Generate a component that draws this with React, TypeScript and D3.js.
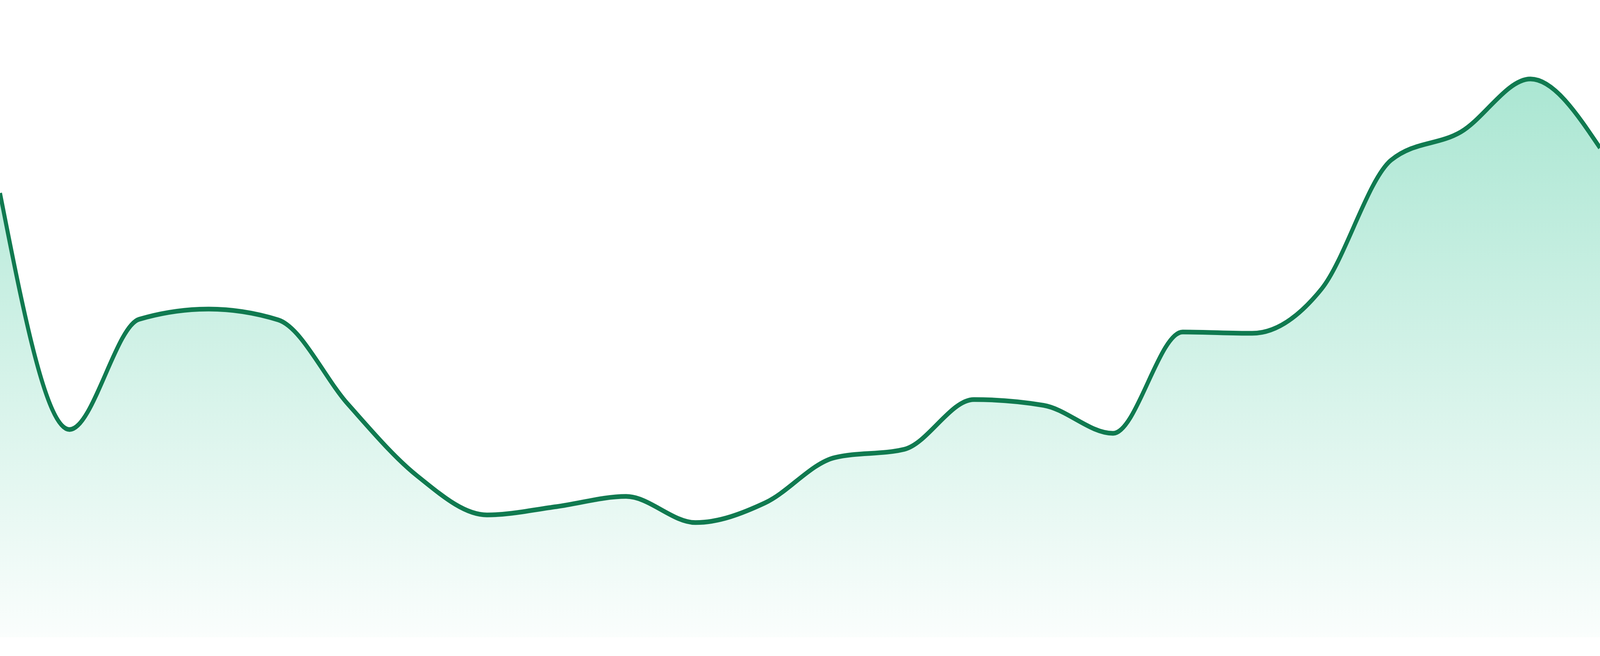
import React, { useEffect, useRef } from 'react';
import * as d3 from 'd3';

const WIDTH = 4800;
const HEIGHT = 1680;

// One value per step (0..100 scale)
const VALUES = [
  69.7, 32.6, 49.9, 51.5, 49.8, 36.6, 25.3, 19.2, 20.5, 22.1, 18.0, 21.1,
  28.2, 29.5, 37.3, 36.4, 32.0, 47.9, 47.7, 54.7, 74.9, 79.3, 87.6, 76.8,
];

const Y_DOMAIN = [0, 100];
const LINE_COLOR = '#107a50';
const FILL_COLOR = '#10b981';

const App: React.FC = () => {
  const svgRef = useRef<SVGSVGElement>(null);

  useEffect(() => {
    document.body.style.margin = '0';
    document.body.style.overflow = 'hidden';
    if (!svgRef.current) return;

    const svg = d3.select(svgRef.current);
    svg.selectAll('*').remove();

    const margin = { top: 0, right: 0, bottom: 48, left: 0 };
    const innerH = HEIGHT - margin.top - margin.bottom;

    const x = d3
      .scaleLinear()
      .domain([0, VALUES.length - 1])
      .range([margin.left, WIDTH - margin.right]);

    const y = d3
      .scaleLinear()
      .domain(Y_DOMAIN)
      .range([margin.top + innerH, margin.top]);

    // Vertical fade under the line
    const defs = svg.append('defs');
    const grad = defs
      .append('linearGradient')
      .attr('id', 'area-fade')
      .attr('gradientUnits', 'userSpaceOnUse')
      .attr('x1', 0)
      .attr('x2', 0)
      .attr('y1', margin.top)
      .attr('y2', margin.top + innerH);
    grad.append('stop').attr('offset', '0%').attr('stop-color', FILL_COLOR).attr('stop-opacity', 0.4);
    grad.append('stop').attr('offset', '100%').attr('stop-color', FILL_COLOR).attr('stop-opacity', 0.02);

    const area = d3
      .area<number>()
      .x((_, i) => x(i))
      .y0(y(Y_DOMAIN[0]))
      .y1((d) => y(d))
      .curve(d3.curveMonotoneX);

    const line = d3
      .line<number>()
      .x((_, i) => x(i))
      .y((d) => y(d))
      .curve(d3.curveMonotoneX);

    svg.append('path')
      .datum(VALUES)
      .attr('d', area)
      .attr('fill', 'url(#area-fade)');

    svg.append('path')
      .datum(VALUES)
      .attr('d', line)
      .attr('fill', 'none')
      .attr('stroke', LINE_COLOR)
      .attr('stroke-width', 12)
      .attr('stroke-linejoin', 'round');
  }, []);

  // Fit the drawing to the viewport so nothing is cut off
  return (
    <svg
      ref={svgRef}
      viewBox={`0 0 ${WIDTH} ${HEIGHT}`}
      preserveAspectRatio="none"
      style={{ display: 'block', width: '100vw', height: '100vh', background: '#ffffff' }}
    />
  );
};

export default App;
